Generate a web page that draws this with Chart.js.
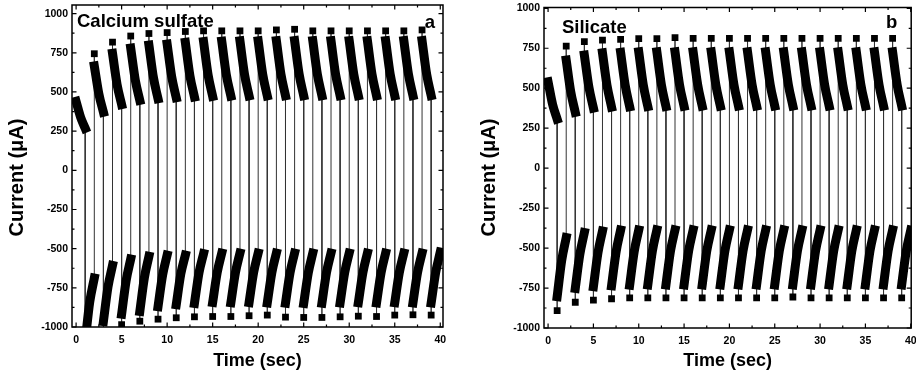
<!DOCTYPE html>
<html><head><meta charset="utf-8">
<script src="https://cdn.jsdelivr.net/npm/chart.js@4/dist/chart.umd.min.js"></script>
<style>
html,body{margin:0;padding:0;background:#fff;}
#wrap{position:relative;width:916px;height:385px;overflow:hidden;background:#fff;}
.pane{position:absolute;top:0;height:385px;}
#pa{left:0;width:458px;}
#pb{left:472px;width:444px;}
</style></head><body>
<div id="wrap">
  <div class="pane" id="pa"><canvas id="ca" width="458" height="385"></canvas></div>
  <div class="pane" id="pb"><canvas id="cb" width="444" height="385"></canvas></div>
</div>
<script>
// ---- data ----
const pulseTimes = [0,1,2,3,4,5,6,7,8,9,10,11,12,13,14,15,16,17,18,19,20,21,22,23,24,25,26,27,28,29,30,31,32,33,34,35,36,37,38,39];
const xTickValues = [0,5,10,15,20,25,30,35,40];
const xMinorValues = [2.5,7.5,12.5,17.5,22.5,27.5,32.5,37.5];
const yTickValues = [-1000,-750,-500,-250,0,250,500,750,1000];
const yMinorValues = [-875,-625,-375,-125,125,375,625,875];

// (a) Calcium sulfate: peak (square) at pulse start, then curve start / middle / end
const caPeak  = [null,-1150,744,-1040,818,-985,857,-963,873,-950,879,-941,886,-935,890,-933,890,-933,890,-928,890,-924,896,-937,900,-939,890,-939,890,-935,890,-931,890,-933,890,-924,890,-922,896,-924];
const caStart = [440,-1090,666,-965,747,-918,780,-900,799,-870,806,-858,817,-849,822,-843,824,-845,826,-844,826,-846,827,-848,828,-850,827,-848,827,-846,827,-845,827,-846,827,-845,828,-846,828,-846];
const caMid   = [338,-840,488,-745,548,-703,576,-686,590,-669,597,-662,604,-654,608,-652,610,-653,612,-652,612,-653,613,-654,613,-655,613,-654,613,-653,613,-653,613,-653,613,-653,614,-653,614,-651];
const caEnd   = [268,-688,371,-607,420,-566,446,-549,457,-541,463,-541,468,-532,472,-528,474,-528,475,-528,475,-528,476,-528,476,-528,476,-528,476,-528,476,-528,476,-528,476,-528,477,-528,477,-522];

// (b) Silicate
const siPeak  = [null,-891,764,-839,791,-825,801,-817,806,-812,810,-812,810,-812,816,-812,812,-812,812,-812,812,-812,812,-812,812,-812,812,-806,812,-812,812,-812,812,-812,812,-812,812,-812,812,-812];
const siStart = [540,-804,676,-752,707,-742,721,-736,725,-732,727,-731,727,-730,727,-730,727,-730,727,-730,727,-730,727,-730,727,-730,727,-730,727,-730,727,-730,727,-730,727,-730,727,-730,727,-730];
const siMid   = [398,-578,478,-540,507,-530,517,-524,520,-521,521,-520,521,-519,521,-519,522,-519,522,-519,522,-519,522,-519,522,-519,522,-519,522,-519,522,-519,522,-519,522,-519,522,-519,522,-520];
const siEnd   = [307,-434,349,-403,376,-393,382,-387,384,-387,386,-386,386,-386,387,-386,388,-386,388,-386,389,-386,389,-386,389,-386,389,-386,389,-386,389,-386,389,-386,389,-386,389,-386,389,-388];

const FONT = '"Liberation Sans", Arial, sans-serif';

function buildDatasets(peak, start, mid, end) {
  const ds = [];
  ds.push({
    type: 'scatter',
    data: pulseTimes.map((t, k) => peak[k] === null ? null : {x: t, y: peak[k]}).filter(p => p),
    pointStyle: 'rect', pointRadius: 4.8, pointHoverRadius: 4.8,
    backgroundColor: '#000', borderColor: '#000', borderWidth: 0, showLine: false
  });
  pulseTimes.forEach((t, k) => {
    ds.push({
      type: 'line',
      data: [{x: t, y: start[k]}, {x: t + 0.5, y: mid[k]}, {x: t + 1, y: end[k]}],
      borderColor: '#000', borderWidth: 9, borderCapStyle: 'square', borderJoinStyle: 'round',
      cubicInterpolationMode: 'monotone', pointRadius: 0, fill: false
    });
  });
  const thin = [];
  pulseTimes.forEach((t, k) => {
    if (k === 0) return;
    thin.push({x: t, y: end[k - 1]});
    thin.push({x: t, y: peak[k]});
    thin.push({x: t, y: start[k]});
    thin.push({x: t + 0.5, y: null});
  });
  ds.push({
    type: 'line', data: thin, borderColor: '#333', borderWidth: 1,
    pointRadius: 0, spanGaps: false, tension: 0, fill: false
  });
  return ds;
}

function framePlugin(o) {
  return {
    id: 'frame',
    afterDatasetsDraw(chart) {
      const {ctx, chartArea: a, scales: {x, y}} = chart;
      ctx.save();
      ctx.strokeStyle = '#000';
      ctx.lineWidth = 1.5;
      ctx.strokeRect(a.left, a.top, a.right - a.left, a.bottom - a.top);
      ctx.lineWidth = 1.2;
      ctx.beginPath();
      const xt = (vals, len) => vals.forEach(v => {
        const p = x.getPixelForValue(v);
        ctx.moveTo(p, a.bottom); ctx.lineTo(p, a.bottom - len);
        ctx.moveTo(p, a.top); ctx.lineTo(p, a.top + len);
      });
      const yt = (vals, len) => vals.forEach(v => {
        const p = y.getPixelForValue(v);
        ctx.moveTo(a.left, p); ctx.lineTo(a.left + len, p);
        ctx.moveTo(a.right, p); ctx.lineTo(a.right - len, p);
      });
      xt(xTickValues, 4.5); xt(xMinorValues, 2.5);
      yt(yTickValues, 4.5); yt(yMinorValues, 2.5);
      ctx.stroke();
      ctx.fillStyle = '#000';
      ctx.font = 'bold 18.5px ' + FONT;
      ctx.textBaseline = 'alphabetic';
      ctx.textAlign = 'left';
      ctx.fillText(o.label, a.left + o.labelDX, a.top + o.labelDY);
      ctx.textAlign = 'right';
      ctx.fillText(o.letter, a.right - o.letterDX, a.top + o.letterDY);
      ctx.font = 'bold 20px ' + FONT;
      ctx.textAlign = 'center';
      ctx.textBaseline = 'middle';
      ctx.translate(17, 177.5);
      ctx.rotate(-Math.PI / 2);
      ctx.fillText('Current (μA)', 0, 0);
      ctx.restore();
    }
  };
}

function noOverflow(s) {
  s.paddingLeft = 0; s.paddingRight = 0; s.paddingTop = 0; s.paddingBottom = 0;
}

function makeChart(id, peak, start, mid, end, opts) {
  const tickFont = {family: FONT, weight: 'bold', size: 10.5};
  const titleFont = {family: FONT, weight: 'bold', size: 18};
  return new Chart(document.getElementById(id), {
    data: {datasets: buildDatasets(peak, start, mid, end)},
    options: {
      responsive: false, animation: false, devicePixelRatio: 1,
      events: [],
      layout: {padding: {left: 0, right: opts.padRight, top: opts.padTop, bottom: 0}},
      plugins: {legend: {display: false}, tooltip: {enabled: false}},
      scales: {
        x: {
          type: 'linear', position: 'bottom', min: -0.45, max: opts.xMax,
          afterBuildTicks: s => { s.ticks = xTickValues.map(v => ({value: v})); },
          afterFit: s => { s.height = opts.xHeight; noOverflow(s); },
          ticks: {font: tickFont, color: '#000', padding: 7, maxRotation: 0, autoSkip: false, callback: v => String(v)},
          grid: {display: false, drawTicks: false}, border: {display: false},
          title: {display: true, text: 'Time (sec)', font: titleFont, color: '#000', padding: {top: 0, bottom: 13}}
        },
        y: {
          type: 'linear', position: 'left', min: -1000, max: opts.yMax,
          afterBuildTicks: s => { s.ticks = yTickValues.map(v => ({value: v})); },
          afterFit: s => { s.width = 72; noOverflow(s); },
          ticks: {font: tickFont, color: '#000', padding: 4, autoSkip: false, callback: v => String(v)},
          grid: {display: false, drawTicks: false}, border: {display: false},
          title: {display: false}
        }
      }
    },
    plugins: [framePlugin(opts)]
  });
}

makeChart('ca', caPeak, caStart, caMid, caEnd, {
  padRight: 15, padTop: 5, xHeight: 58, xMax: 40.3, yMax: 1055,
  label: 'Calcium sulfate', labelDX: 5, labelDY: 22, letter: 'a', letterDX: 8, letterDY: 23
});
makeChart('cb', siPeak, siStart, siMid, siEnd, {
  padRight: 3, padTop: 7.5, xHeight: 57, xMax: 40.05, yMax: 1005,
  label: 'Silicate', labelDX: 18, labelDY: 25, letter: 'b', letterDX: 14, letterDY: 20
});
</script>
</body></html>
